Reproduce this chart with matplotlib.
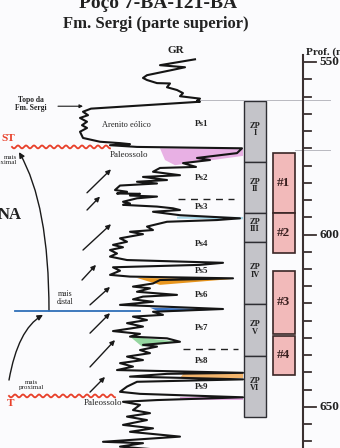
import numpy as np
import matplotlib.pyplot as plt
from matplotlib.patches import FancyArrowPatch, Polygon

plt.rcParams['font.family'] = ['Liberation Serif', 'DejaVu Serif']

# GR log (depth in m, GR in track units)
gr_depth = [549.2, 550.9, 551.5, 552.3, 553.8, 554.6, 555.2, 556.1, 556.2, 557.3,
            558.1, 559.0, 559.9, 560.6, 561.2, 561.5, 563.5, 564.4, 565.4, 566.2,
            567.3, 568.3, 569.1, 570.2, 572.0, 573.1, 573.5, 573.8, 574.1, 574.6,
            575.0, 576.4, 577.8, 578.4, 579.3, 580.4, 580.7, 581.8, 582.8, 583.3,
            584.2, 584.7, 585.2, 585.8, 587.1, 587.6, 588.1, 588.2, 588.7, 589.0,
            589.5, 590.5, 591.0, 591.4, 591.9, 592.4, 592.9, 593.4, 594.4, 595.3,
            595.8, 596.3, 597.7, 598.7, 599.2, 599.9, 601.1, 602.1, 603.0, 603.7,
            604.5, 605.5, 606.4, 607.4, 608.2, 608.8, 609.5, 610.5, 611.7, 612.2,
            612.7, 613.2, 614.2, 615.1, 615.6, 616.6, 617.5, 618.0, 618.8, 619.5,
            620.4, 621.6, 622.4, 623.3, 623.8, 624.8, 625.7, 626.7, 628.0, 628.8,
            629.6, 630.1, 631.1, 632.0, 632.5, 633.5, 634.4, 635.4, 636.4, 637.3,
            638.3, 639.3, 640.1, 640.4, 641.2, 642.0, 642.7, 644.1, 645.6, 646.2,
            647.2, 648.0, 648.5, 649.4, 650.9, 651.8, 652.8, 653.8, 655.2, 656.2,
            657.2, 658.6, 660.1, 660.5, 661.5, 662.2]
gr_value = [195, 160, 185, 172, 147, 143, 147, 157, 170, 167,
            177, 183, 180, 200, 197, 200, 91, 83, 88, 80,
            87, 82, 87, 80, 83, 100, 120, 130, 110, 137,
            242, 237, 197, 210, 183, 196, 160, 153, 180, 143,
            167, 137, 157, 120, 115, 127, 117, 140, 130, 157,
            137, 123, 130, 123, 157, 173, 180, 153, 180, 240,
            217, 167, 147, 153, 130, 143, 120, 127, 113, 123,
            110, 117, 110, 127, 223, 200, 113, 120, 110, 130,
            233, 160, 153, 133, 150, 137, 177, 143, 133, 153,
            120, 223, 153, 163, 133, 147, 127, 143, 113, 140,
            130, 167, 180, 143, 157, 140, 150, 127, 143, 120,
            133, 117, 243, 167, 130, 243, 137, 127, 120, 140,
            243, 157, 123, 140, 133, 150, 127, 147, 123, 153,
            130, 180, 103, 143, 120, 150]

# stratigraphic zones (ZP) and reservoir boxes
zp_names = ['ZP\nI', 'ZP\nII', 'ZP\nIII', 'ZP\nIV', 'ZP\nV', 'ZP\nVI']
zp_top = [561.3, 579.0, 593.8, 602.2, 620.1, 635.2]
zp_base = [579.0, 593.8, 602.2, 620.1, 635.2, 652.9]
box_names = ['#1', '#2', '#3', '#4']
box_top = [576.4, 593.8, 610.6, 629.4]
box_base = [593.8, 605.4, 628.8, 640.7]

# parasequences
ps_names = ['Ps1', 'Ps2', 'Ps3', 'Ps4', 'Ps5', 'Ps6', 'Ps7', 'Ps8', 'Ps9']
ps_depth = [568.0, 583.5, 592.1, 602.7, 610.7, 617.5, 627.0, 636.6, 644.1]
dash_depth = [589.6, 633.1]

# coloured wedges (gr, depth vertices)
pink_top_gr = [160, 243, 243, 175, 165]
pink_top_d = [575.0, 575.0, 577.2, 579.9, 578.4]
cyan_gr = [177, 243, 243, 177]
cyan_d = [594.8, 594.9, 595.6, 595.4]
orange_gr = [137, 232, 160]
orange_d = [612.6, 612.9, 614.6]
blue_gr = [150, 225, 160]
blue_d = [621.2, 621.7, 622.5]
green_gr = [130, 180, 142]
green_d = [629.6, 631.1, 632.5]
orange2_gr = [184, 243, 243, 180]
orange2_d = [640.1, 640.1, 641.6, 641.6]
pink_bot_gr = [180, 243, 243, 180]
pink_bot_d = [647.2, 647.2, 648.0, 648.0]

# small trend arrows
arr_x0 = [87, 87, 83, 82, 90, 90, 90, 90]
arr_d0 = [587.9, 592.9, 604.5, 613.2, 620.4, 628.6, 638.4, 645.7]
arr_x1 = [111, 100, 111, 96, 110, 110, 115, 105]
arr_d1 = [581.1, 589.0, 597.0, 608.8, 615.2, 622.8, 630.6, 641.3]

depth_ticks = np.arange(550, 662, 5)
depth_labels = [550, 600, 650]

fig = plt.figure(figsize=(3.4, 4.48), dpi=100, facecolor='#fbfbfd')
ax = fig.add_axes([0, 0, 1, 1])
ax.set_xlim(0, 340)
ax.set_ylim(661.9, 532.0)
ax.axis('off')

# faint scan lines
ax.plot([200, 330], [561.0, 561.0], color='#b8b8c0', lw=0.7)
ax.plot([295, 330], [575.5, 575.5], color='#b8b8c0', lw=0.7)

# wedges
for gx, gd, c in [(pink_top_gr, pink_top_d, '#e8b0e4'), (cyan_gr, cyan_d, '#a9d9ea'),
                  (orange_gr, orange_d, '#e8961f'), (blue_gr, blue_d, '#3b73c2'),
                  (green_gr, green_d, '#95d6a0'), (orange2_gr, orange2_d, '#f2b46c'),
                  (pink_bot_gr, pink_bot_d, '#e4a8e2')]:
    ax.add_patch(Polygon(list(zip(gx, gd)), closed=True, facecolor=c, edgecolor='none'))

ax.plot(gr_value, gr_depth, color='#151515', lw=1.5)

# zones
ax.bar(255, np.subtract(zp_base, zp_top), bottom=zp_top, width=22,
       color='#c4c4c9', edgecolor='#2e2e33', linewidth=1.0)
for n, t, b in zip(zp_names, zp_top, zp_base):
    ax.text(255, (t + b) / 2 - 0.6, n, ha='center', va='center', fontsize=6,
            fontweight='bold', color='#222', linespacing=0.9)
ax.bar(283.5, np.subtract(box_base, box_top), bottom=box_top, width=22,
       color='#f2baba', edgecolor='#3a2626', linewidth=1.2)
for n, t, b in zip(box_names, box_top, box_base):
    ax.text(283.5, (t + b) / 2, n, ha='center', va='center', fontsize=9.5,
            fontweight='bold', color='#3a2020')

for n, d in zip(ps_names, ps_depth):
    ax.text(202, d, n, ha='center', va='center', fontsize=6.5, fontweight='bold', color='#222')
for d, (x0, x1) in zip(dash_depth, [(178, 234), (183, 238)]):
    ax.plot([x0, x1], [d, d], color='#222', lw=1.0, dashes=(5, 4))

# depth scale
ax.plot([303, 303], [548.0, 662], color='#3a3030', lw=1.5)
for d in depth_ticks:
    ax.plot([303, 316 if d in depth_labels else 311], [d, d], color='#3a3030', lw=1.3)
for d in depth_labels:
    ax.text(319, d, str(d), ha='left', va='center', fontsize=9.5, fontweight='bold', color='#222')
ax.text(306, 547.2, 'Prof. (m)', ha='left', va='center', fontsize=8, fontweight='bold', color='#222')

# sequence boundaries
for d, x0, x1 in [(574.6, 12, 110), (646.8, 9, 115)]:
    xs = np.linspace(x0, x1, 300)
    ax.plot(xs, d + 0.42 * np.sin(2 * np.pi * (xs - x0) / 8), color='#e8402a', lw=1.3)
ax.text(15, 572.3, 'ST', ha='right', va='center', fontsize=8, fontweight='bold', color='#e8402a')
ax.text(14, 649.1, 'T', ha='right', va='center', fontsize=8, fontweight='bold', color='#e8402a')
ax.plot([15, 140], [622.2, 622.2], color='#2f6fb8', lw=1.3)

# big trend arrows
ax.add_patch(FancyArrowPatch((49, 622.2), (19, 576.1), connectionstyle='angle3,angleA=90,angleB=120',
                             arrowstyle='-|>', mutation_scale=8, color='#1a1a1a', lw=1.0,
                             shrinkA=0, shrinkB=0))
ax.add_patch(FancyArrowPatch((9, 642.2), (43, 623.3), connectionstyle='angle3,angleA=80,angleB=30',
                             arrowstyle='-|>', mutation_scale=8, color='#1a1a1a', lw=1.0,
                             shrinkA=0, shrinkB=0))
for x0, d0, x1, d1 in zip(arr_x0, arr_d0, arr_x1, arr_d1):
    ax.add_patch(FancyArrowPatch((x0, d0), (x1, d1), arrowstyle='-|>', mutation_scale=7,
                                 color='#1a1a1a', lw=1.0, shrinkA=0, shrinkB=0))
ax.add_patch(FancyArrowPatch((58, 562.8), (83, 562.8), arrowstyle='-|>', mutation_scale=5,
                             color='#1a1a1a', lw=0.8, shrinkA=0, shrinkB=0))

# labels
ax.text(158, 534.2, 'Poço 7-BA-121-BA', ha='center', va='baseline', fontsize=14,
        fontweight='bold', color='#222')
ax.text(156, 539.0, 'Fm. Sergi (parte superior)', ha='center', va='center', fontsize=12,
        fontweight='bold', color='#222')
ax.text(176, 546.5, 'GR', ha='center', va='center', fontsize=8, fontweight='bold', color='#222')
ax.text(31, 562.2, 'Topo da\nFm. Sergi', ha='center', va='center', fontsize=5.5,
        fontweight='bold', color='#222', linespacing=0.95)
ax.text(126, 568.3, 'Arenito eólico', ha='center', va='center', fontsize=6, color='#222')
ax.text(129, 577.0, 'Paleossolo', ha='center', va='center', fontsize=6.5, color='#222')
ax.text(103, 648.8, 'Paleossolo', ha='center', va='center', fontsize=6.5, color='#222')
ax.text(65, 618.4, 'mais\ndistal', ha='center', va='center', fontsize=5.5, color='#222',
        linespacing=0.85)
ax.text(32, 643.6, 'mais\nproximal', ha='center', va='center', fontsize=5, color='#222',
        linespacing=0.85)
ax.text(17, 578.4, 'mais\nproximal', ha='right', va='center', fontsize=5, color='#222',
        linespacing=0.85)
ax.text(22, 594.4, 'NA', ha='right', va='center', fontsize=12, fontweight='bold', color='#222')

fig.savefig('out.png', dpi=100, facecolor=fig.get_facecolor())
